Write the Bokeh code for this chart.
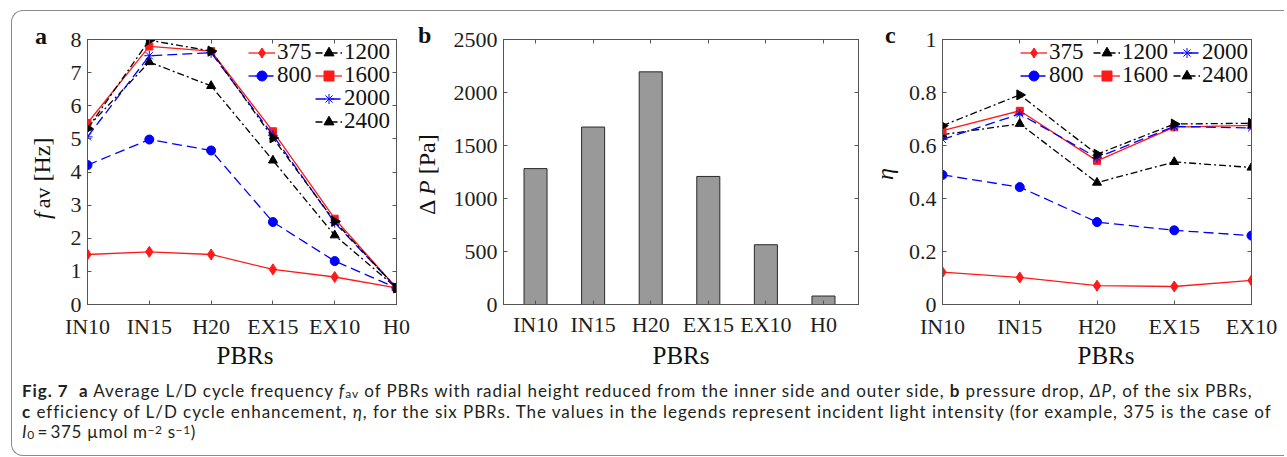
import numpy as np
from bokeh.plotting import figure
from bokeh.models import Range1d, FixedTicker, LinearAxis, Legend, LegendItem, Div
from bokeh.layouts import row, column
from bokeh.embed import file_html
from bokeh.resources import INLINE

# ---------------- data ----------------
categories_ab = ["IN10", "IN15", "H20", "EX15", "EX10", "H0"]
categories_c = ["IN10", "IN15", "H20", "EX15", "EX10"]
intensities = ["375", "800", "1200", "1600", "2000", "2400"]

# panel a: average L/D cycle frequency f_av [Hz]
fav_375 = [1.51, 1.59, 1.51, 1.06, 0.83, 0.50]
fav_800 = [4.21, 4.98, 4.65, 2.49, 1.31, 0.50]
fav_1200 = [5.35, 7.32, 6.60, 4.35, 2.09, 0.50]
fav_1600 = [5.48, 7.79, 7.65, 5.23, 2.59, 0.50]
fav_2000 = [5.06, 7.51, 7.60, 5.11, 2.47, 0.50]
fav_2400 = [5.31, 7.98, 7.65, 5.03, 2.51, 0.50]

# panel b: pressure drop [Pa]
dp_values = [1282, 1674, 2195, 1208, 564, 80]

# panel c: efficiency eta
eta_375 = [0.122, 0.102, 0.071, 0.068, 0.091]
eta_800 = [0.489, 0.443, 0.311, 0.280, 0.260]
eta_1200 = [0.641, 0.682, 0.460, 0.538, 0.517]
eta_1600 = [0.656, 0.731, 0.542, 0.669, 0.676]
eta_2000 = [0.623, 0.719, 0.554, 0.672, 0.666]
eta_2400 = [0.675, 0.791, 0.567, 0.681, 0.684]

yticks_a = [0, 1, 2, 3, 4, 5, 6, 7, 8]
yticks_b = [0, 500, 1000, 1500, 2000, 2500]
yticks_c = [0, 0.2, 0.4, 0.6, 0.8, 1]
ylabels_c = ["0", "0.2", "0.4", "0.6", "0.8", "1"]

SUB = '<span style="font-size:12px; vertical-align:-1px; line-height:0;">'
SUP = '<span style="font-size:12px; vertical-align:4px; line-height:0;">'
caption_lines = [
    '<b>Fig.&nbsp;7</b>&nbsp; <b>a</b> Average L/D cycle frequency <i>f</i>' + SUB + 'av</span> of PBRs with radial height reduced from the inner side and outer side, <b>b</b> pressure drop, <i>\u0394P</i>, of the six PBRs,',
    '<b>c</b> efficiency of L/D cycle enhancement, <i>\u03b7</i>, for the six PBRs. The values in the legends represent incident light intensity (for example, 375 is the case of',
    '<i>I</i>' + SUB + '0</span>\u2009=\u2009375 \u00b5mol m' + SUP + '\u22122</span> s' + SUP + '\u22121</span>)',
]
caption_spacing = ["0.92px", "0.95px", "0.6px"]

# ---------------- styles ----------------
AX = "#555555"
TICK_COLOR = "#1e1e1e"
SERIF = "Liberation Serif"
series_style = {
    "375": dict(color="#ff1a1a", dash="solid", marker="diamond", size=11, angle=0.0),
    "800": dict(color="#0000ff", dash="10 5", marker="circle", size=9, angle=0.0),
    "1200": dict(color="#000000", dash="7 3 2 3", marker="triangle", size=9, angle=0.0),
    "1600": dict(color="#ff1a1a", dash="solid", marker="square", size=7, angle=0.0),
    "2000": dict(color="#0000ff", dash="10 5", marker="asterisk", size=10, angle=0.0),
    "2400": dict(color="#000000", dash="7 3 2 3", marker="triangle", size=10, angle=-np.pi / 2),
}


def style_axis(ax, ticks, overrides=None, labels=True, standoff=6):
    ax.ticker = FixedTicker(ticks=ticks)
    ax.major_tick_in = 4
    ax.major_tick_out = 0
    ax.minor_tick_line_color = None
    ax.axis_line_color = AX
    ax.major_tick_line_color = AX
    if labels:
        ax.major_label_text_font = SERIF
        ax.major_label_text_font_size = "22px"
        ax.major_label_text_color = TICK_COLOR
        ax.major_label_standoff = standoff
        if overrides:
            ax.major_label_overrides = overrides
    else:
        ax.major_label_text_color = None
        ax.major_label_text_font_size = "1px"
        ax.major_label_standoff = 0


def make_fig(width, height, mbl, mbr, mbt, mbb, xr, yr, xticks, xover, yticks, yover=None, xstand=9):
    p = figure(width=width, height=height, x_range=xr, y_range=yr, title=None,
               output_backend="svg", toolbar_location=None,
               min_border_left=mbl, min_border_right=mbr, min_border_top=mbt, min_border_bottom=mbb)
    p.xgrid.visible = False
    p.ygrid.visible = False
    p.outline_line_color = AX
    p.background_fill_color = "white"
    p.border_fill_color = "white"
    style_axis(p.xaxis[0], xticks, xover, True, standoff=xstand)
    style_axis(p.yaxis[0], yticks, yover, True, standoff=6)
    top = LinearAxis()
    style_axis(top, xticks, labels=False)
    right = LinearAxis()
    style_axis(right, yticks, labels=False)
    p.add_layout(top, "above")
    p.add_layout(right, "right")
    return p


def span(left, top, html, size=24, bold=False, rotate=False, extra=""):
    st = (f"position:absolute; left:{left}px; top:{top}px; font-size:{size}px; line-height:{size}px; "
          "white-space:nowrap; ")
    if bold:
        st += "font-weight:bold; "
    if rotate:
        st += "transform-origin:0 0; transform:rotate(-90deg); "
    return f'<span style="{st}{extra}">{html}</span>'


def text_div(width, height, spans):
    html = (f'<div style="position:relative; overflow:hidden; width:{width}px; height:{height}px; '
            f'font-family:\'{SERIF}\', serif; color:#111111;">' + "".join(spans) + "</div>")
    return Div(text=html, width=width, height=height, margin=0)


def add_series(p, xs, data):
    items = {}
    for name in intensities:
        st = series_style[name]
        lr = p.line(xs, data[name], line_color=st["color"], line_width=1.3, line_dash=st["dash"])
        sr = p.scatter(xs, data[name], marker=st["marker"], size=st["size"], angle=st["angle"],
                       fill_color=st["color"], line_color=st["color"], line_width=1)
        items[name] = LegendItem(label=name, renderers=[lr, sr])
    return items


def add_legend(p, item, loc):
    lg = Legend(items=[item], location=loc, orientation="vertical", padding=0, margin=0, spacing=0,
                border_line_color=None, background_fill_alpha=0,
                glyph_width=27, glyph_height=25, label_height=25, label_standoff=2,
                label_text_font=SERIF, label_text_font_size="23px",
                label_text_color="#111111")
    p.add_layout(lg)


TOP_H = 330

# ---------------- panel a ----------------
ta = text_div(50, TOP_H, [
    span(23, 13, "a", bold=True),
    span(18, 208, '<i style="margin-right:4px">f</i><span style="font-size:22px">av</span> [Hz]', rotate=True),
])

xa = list(range(len(categories_ab)))
pa = make_fig(350, TOP_H, 25, 16, 28, 34, Range1d(0, 5), Range1d(0, 8),
              xa, {i: c for i, c in enumerate(categories_ab)}, yticks_a)
fav = {"375": fav_375, "800": fav_800, "1200": fav_1200, "1600": fav_1600,
       "2000": fav_2000, "2400": fav_2400}
items_a = add_series(pa, xa, fav)
add_legend(pa, items_a["375"], (161, 239))
add_legend(pa, items_a["800"], (161, 216))
add_legend(pa, items_a["1200"], (228, 239))
add_legend(pa, items_a["1600"], (228, 216))
add_legend(pa, items_a["2000"], (228, 193))
add_legend(pa, items_a["2400"], (228, 170))

# ---------------- panel b ----------------
tb = text_div(28, TOP_H, [
    span(6, 12, "b", bold=True),
    span(3, 204, '\u0394 <i>P</i> [Pa]', rotate=True),
])

xb = list(range(len(categories_ab)))
pb = make_fig(432, TOP_H, 63, 14, 28, 32, Range1d(-0.556, 5.608), Range1d(0, 2500),
              xb, {i: c for i, c in enumerate(categories_ab)}, yticks_b, xstand=7)
pb.vbar(x=xb, top=dp_values, width=0.4, bottom=0, fill_color="#999999",
        line_color="#2a2a2a", line_width=1)

# ---------------- panel c ----------------
tc = text_div(30, TOP_H, [
    span(13, 12, "c", bold=True),
    span(1, 169, '<i>\u03b7</i>', rotate=True),
])

xc = list(range(len(categories_c)))
pc = make_fig(375, TOP_H, 40, 26, 28, 34, Range1d(0, 4), Range1d(0, 1),
              xc, {i: c for i, c in enumerate(categories_c)}, yticks_c,
              {t: l for t, l in zip(yticks_c, ylabels_c)})
eta = {"375": eta_375, "800": eta_800, "1200": eta_1200, "1600": eta_1600,
       "2000": eta_2000, "2400": eta_2400}
items_c = add_series(pc, xc, eta)
add_legend(pc, items_c["375"], (78, 239))
add_legend(pc, items_c["800"], (78, 216))
add_legend(pc, items_c["1200"], (151, 239))
add_legend(pc, items_c["1600"], (151, 216))
add_legend(pc, items_c["2000"], (231, 239))
add_legend(pc, items_c["2400"], (231, 216))

# ---------------- x titles ----------------
tx = text_div(1265, 34, [
    span(245 - 12 - 60, 2, "PBRs", size=25, extra="width:120px; text-align:center;"),
    span(681 - 12 - 60, 2, "PBRs", size=25, extra="width:120px; text-align:center;"),
    span(1106 - 12 - 60, 2, "PBRs", size=25, extra="width:120px; text-align:center;"),
])

# ---------------- caption ----------------
cap_html = ('<div style="padding:6px 0 0 10px; font-family:Lato, \'Open Sans\', sans-serif; '
            'font-size:17px; white-space:nowrap; color:#231f20; overflow:hidden; width:1262px; height:74px;">'
            + "".join(f'<div style="height:20.5px; line-height:20.5px; letter-spacing:{ls};">{ln}</div>'
                      for ln, ls in zip(caption_lines, caption_spacing))
            + "</div>")
cap = Div(text=cap_html, width=1272, height=80, margin=0)

layout = column(row(ta, pa, tb, pb, tc, pc), tx, cap, margin=(10, 0, 0, 11),
                styles={"border-left": "1px solid #8a8a8a", "border-top": "1px solid #8a8a8a",
                        "border-bottom": "1px solid #8a8a8a",
                        "border-top-left-radius": "12px", "border-bottom-left-radius": "12px"})

open("out.html", "w").write(file_html(layout, INLINE))
